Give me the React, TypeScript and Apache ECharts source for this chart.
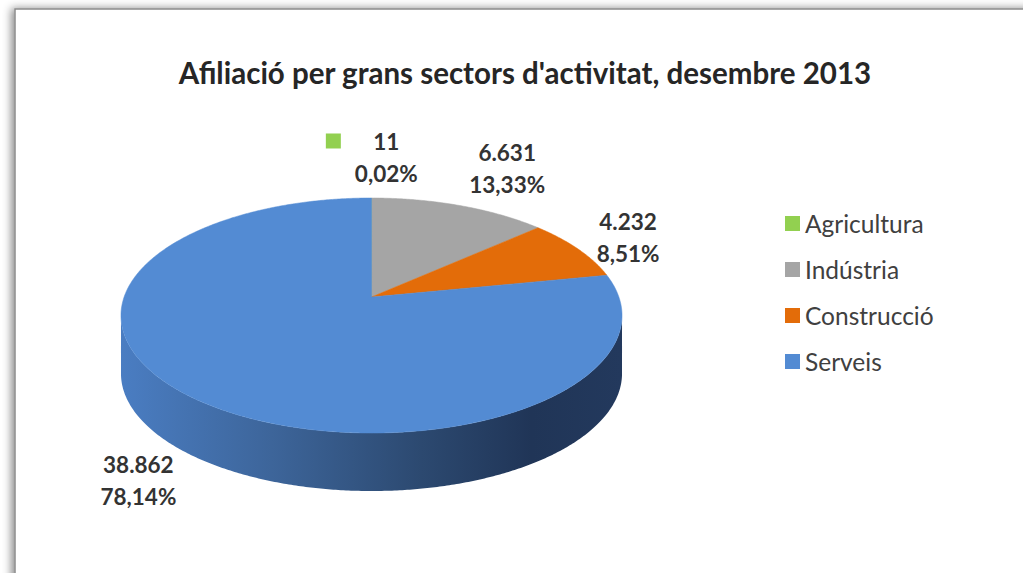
import React, { useEffect, useRef } from "react";
import * as echarts from "echarts";

const TITLE = "Afiliació per grans sectors d'activitat, desembre 2013";
const NAMES = ["Agricultura", "Indústria", "Construcció", "Serveis"];
const VALUES = [11, 6631, 4232, 38862];
const COLORS = ["#92d050", "#a5a5a5", "#e36c09", "#538bd3"];
const KEY_LABEL = "Agricultura";

// 3D pie geometry (layout)
const CX = 371.5;
const CY = 297;
const RA = 247.4;
const RB = 114.6;
const PERSP = 0.1575;
const DEPTH = 58;
const LABEL_FONT_SIZE = 22.5;
const LINE_H = 32;
const GAP_X = 19;
const GAP_Y = 12;
const FONT = "Lato, 'Open Sans', sans-serif";

const TAU = Math.PI * 2;

function proj(theta: number, dy = 0): [number, number] {
  const u = Math.sin(theta);
  const v = -Math.cos(theta);
  const w = 1 - PERSP * v;
  return [CX + (RA * u) / w, CY + (RB * v) / w + dy];
}

function fmtThousands(v: number): string {
  return String(v).replace(/\B(?=(\d{3})+(?!\d))/g, ".");
}

let measureCtx: CanvasRenderingContext2D | null = null;
function measure(text: string, font: string): number {
  if (!measureCtx) measureCtx = document.createElement("canvas").getContext("2d");
  if (!measureCtx) return text.length * 12;
  measureCtx.font = font;
  return measureCtx.measureText(text).width;
}

function arcPoints(a: number, b: number, dy = 0): [number, number][] {
  const n = Math.max(2, Math.ceil((b - a) / (Math.PI / 360)));
  const pts: [number, number][] = [];
  for (let k = 0; k <= n; k++) pts.push(proj(a + ((b - a) * k) / n, dy));
  return pts;
}

const sideGradient = {
  type: "linear",
  x: CX - RA * 1.01,
  y: 0,
  x2: CX + RA * 1.01,
  y2: 0,
  global: true,
  colorStops: [
    { offset: 0, color: "#4a7dc2" },
    { offset: 0.3, color: "#3d659a" },
    { offset: 0.6, color: "#2c4970" },
    { offset: 0.82, color: "#203557" },
    { offset: 1, color: "#23395d" },
  ],
};

function spread(t: number): number {
  return Math.sign(t) * Math.min(1, Math.abs(t) * 1.3);
}

function makeRender(i: number) {
  return (params: any, api: any) => {
    const total = VALUES.reduce((a, b) => a + b, 0);
    let before = 0;
    for (let k = 0; k < i; k++) before += VALUES[k];
    const val = api.value(0);
    const s = (before / total) * TAU;
    const e = ((before + val) / total) * TAU;
    const color = api.visual("color");
    const children: any[] = [];

    // visible side (front)
    const ta = Math.acos(-PERSP);
    const tb = TAU - ta;
    const sa = Math.max(s, ta);
    const sb = Math.min(e, tb);
    if (sb > sa) {
      const top = arcPoints(sa, sb, 0);
      const bot = arcPoints(sa, sb, DEPTH).reverse();
      children.push({
        type: "polygon",
        shape: { points: top.concat(bot) },
        style: { fill: sideGradient, stroke: null },
      });
    }

    // top face
    children.push({
      type: "polygon",
      shape: { points: [[CX, CY] as [number, number]].concat(arcPoints(s, e, 0)) },
      style: { fill: color, stroke: color, lineWidth: 0.5 },
    });

    // label (outside end)
    const mid = (s + e) / 2;
    const vMid = -Math.cos(mid);
    const anchor = proj(mid, vMid > PERSP ? DEPTH : 0);
    const rim = proj(mid, 0);
    let dx = rim[0] - CX;
    let dy = rim[1] - CY;
    const len = Math.hypot(dx, dy) || 1;
    dx /= len;
    dy /= len;
    const line1 = fmtThousands(val);
    const line2 = ((val / total) * 100).toFixed(2).replace(".", ",") + "%";
    const font = `bold ${LABEL_FONT_SIZE}px ${FONT}`;
    const textW = Math.max(measure(line1, font), measure(line2, font));
    const hasKey = NAMES[i] === KEY_LABEL;
    const keySize = 15;
    const keyGap = 14;
    const boxW = textW + (hasKey ? keySize + keyGap : 0);
    const halfW = boxW / 2;
    const halfH = LINE_H - 2;
    const cx = anchor[0] + dx * GAP_X + spread(dx) * halfW;
    const cy = anchor[1] + dy * GAP_Y + spread(dy) * halfH + (hasKey ? 2 : 0);
    const textCx = hasKey ? cx - halfW + keySize + keyGap + textW / 2 : cx;
    children.push({
      type: "text",
      x: textCx,
      y: cy,
      style: {
        text: line1 + "\n" + line2,
        fill: "#333333",
        font,
        fontSize: LABEL_FONT_SIZE,
        fontWeight: "bold",
        fontFamily: FONT,
        lineHeight: LINE_H,
        align: "center",
        verticalAlign: "middle",
        textAlign: "center",
        textVerticalAlign: "middle",
      },
    });
    if (hasKey) {
      children.push({
        type: "rect",
        shape: { x: cx - halfW, y: cy - LINE_H / 2 - keySize / 2 - 1, width: keySize, height: keySize },
        style: { fill: color },
      });
    }
    return { type: "group", children };
  };
}

export default function App() {
  const ref = useRef<HTMLDivElement>(null);
  useEffect(() => {
    if (!ref.current) return;
    const chart = echarts.init(ref.current, undefined, { renderer: "svg" });
    chart.setOption({
      animation: false,
      backgroundColor: "#ffffff",
      title: {
        text: TITLE,
        left: 525,
        top: 57,
        padding: 0,
        textAlign: "center",
        textStyle: { fontFamily: FONT, fontSize: 29.5, fontWeight: "bold", color: "#262626" },
      },
      legend: {
        data: NAMES,
        orient: "vertical",
        left: 785,
        top: 211,
        padding: 0,
        icon: "rect",
        itemWidth: 15,
        itemHeight: 15,
        itemGap: 21,
        selectedMode: false,
        textStyle: { fontFamily: FONT, fontSize: 24.5, color: "#404040" },
      },
      graphic: [
        {
          type: "rect",
          z: 0,
          shape: { x: 15, y: 9, width: 1100, height: 700 },
          style: {
            fill: "#ffffff",
            stroke: "#8c8c8c",
            lineWidth: 1.5,
            shadowBlur: 8,
            shadowColor: "rgba(0,0,0,0.45)",
            shadowOffsetX: -3,
            shadowOffsetY: 0,
          },
        },
      ],
      series: NAMES.map((name, i) => ({
        type: "custom",
        name,
        coordinateSystem: "none",
        silent: true,
        z: 2,
        itemStyle: { color: COLORS[i] },
        data: [VALUES[i]],
        renderItem: makeRender(i),
      })),
    });
    return () => chart.dispose();
  }, []);
  return (
    <div
      ref={ref}
      style={{ position: "fixed", left: 0, top: 0, width: 1023, height: 573 }}
    />
  );
}
